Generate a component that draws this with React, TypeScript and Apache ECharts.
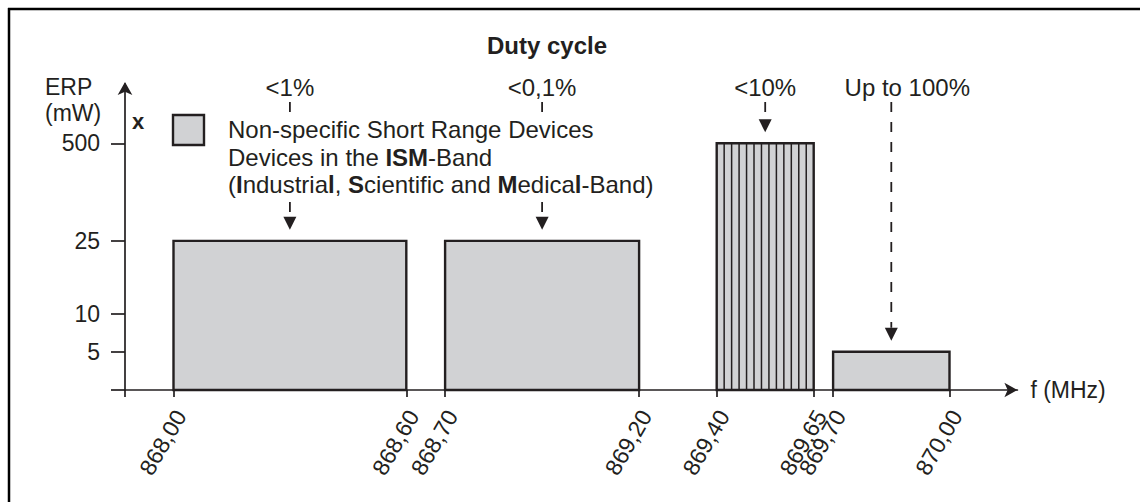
import React, { useEffect, useRef } from 'react';
import * as echarts from 'echarts';

// ---- data ----
const bandStartMHz = [868.0, 868.7, 869.4, 869.7];
const bandEndMHz = [868.6, 869.2, 869.65, 870.0];
const bandErpMw = [25, 25, 500, 5];
const bandDutyCycle = ['<1%', '<0,1%', '<10%', 'Up to 100%'];
const bandHatched = [false, false, true, false];
const freqTickLabels = [868.0, 868.6, 868.7, 869.2, 869.4, 869.65, 869.7, 870.0];
const erpTickLabels = [5, 10, 25, 500];
const freqAxisMin = 867.875;
const freqAxisMax = 870.175;

// broken (schematic) ERP scale: ERP value -> axis step
const erpScaleValues = [0, 5, 10, 25, 500];
const erpScaleSteps = [0, 1, 2, 3.9, 6.45];
const erpAxisMax = 8;

function erpToStep(v: number): number {
  for (let i = 1; i < erpScaleValues.length; i++) {
    if (v <= erpScaleValues[i]) {
      const a = erpScaleValues[i - 1], b = erpScaleValues[i];
      const t = (v - a) / (b - a);
      return erpScaleSteps[i - 1] + t * (erpScaleSteps[i] - erpScaleSteps[i - 1]);
    }
  }
  return erpScaleSteps[erpScaleSteps.length - 1];
}

const FONT = "'Liberation Sans', Arial, Helvetica, sans-serif";
const INK = '#231f20';
const FILL = '#d1d2d4';
const LABEL_DX = [0, 0, 0, 16];

export default function App() {
  const ref = useRef<HTMLDivElement>(null);
  useEffect(() => {
    if (!ref.current) return;
    const chart = echarts.init(ref.current, null, { renderer: 'svg' });
    const yLabelSteps = erpTickLabels.map(erpToStep);
    const option: any = {
      animation: false,
      backgroundColor: '#ffffff',
      title: {
        text: 'Duty cycle',
        left: 547,
        top: 33,
        textAlign: 'center',
        padding: 0,
        textStyle: { fontSize: 24, fontWeight: 'bold', color: INK, fontFamily: FONT },
      },
      grid: { left: 125, right: 122.6, top: 84, bottom: 112, outerBoundsMode: 'none', containLabel: false },
      xAxis: {
        type: 'value',
        min: freqAxisMin,
        max: freqAxisMax,
        name: 'f (MHz)',
        nameLocation: 'end',
        nameGap: 13,
        nameTextStyle: { fontSize: 23, color: INK, fontFamily: FONT, verticalAlign: 'middle' },
        splitLine: { show: false },
        axisLine: {
          show: true,
          onZero: false,
          symbol: ['none', 'arrow'],
          symbolSize: [11, 13],
          lineStyle: { color: INK, width: 1.7 },
        },
        axisTick: {
          show: true,
          inside: false,
          length: 7,
          customValues: [freqAxisMin, ...freqTickLabels],
          lineStyle: { color: INK, width: 1.7 },
        },
        axisLabel: {
          show: true,
          rotate: 60,
          margin: 18,
          verticalAlign: 'top',
          lineHeight: 16,
          customValues: freqTickLabels,
          fontSize: 23,
          color: INK,
          fontFamily: FONT,
          formatter: (v: number) => v.toFixed(2).replace('.', ','),
        },
      },
      yAxis: {
        type: 'value',
        min: 0,
        max: erpAxisMax,
        splitLine: { show: false },
        axisLine: {
          show: true,
          onZero: false,
          symbol: ['none', 'arrow'],
          symbolSize: [11, 13],
          symbolOffset: [0, 2],
          lineStyle: { color: INK, width: 1.7 },
        },
        axisTick: {
          show: true,
          inside: false,
          length: 14,
          customValues: [0, ...yLabelSteps],
          lineStyle: { color: INK, width: 1.7 },
        },
        axisLabel: {
          show: true,
          margin: 25,
          customValues: yLabelSteps,
          fontSize: 23,
          color: INK,
          fontFamily: FONT,
          formatter: (v: number) => {
            let best = 0;
            for (let i = 0; i < yLabelSteps.length; i++) {
              if (Math.abs(yLabelSteps[i] - v) < Math.abs(yLabelSteps[best] - v)) best = i;
            }
            return String(erpTickLabels[best]);
          },
        },
      },
      series: [
        {
          type: 'custom',
          clip: false,
          z: 2,
          encode: { x: [0, 1], y: 2 },
          data: bandStartMHz.map((s, i) => [s, bandEndMHz[i], erpToStep(bandErpMw[i])]),
          renderItem: (params: any, api: any) => {
            const i = params.dataIndex;
            const p0 = api.coord([api.value(0), 0]);
            const p1 = api.coord([api.value(1), api.value(2)]);
            const x = p0[0];
            const y = p1[1];
            const w = p1[0] - p0[0];
            const h = p0[1] - p1[1];
            const top = params.coordSys.y;
            const cx = x + w / 2;
            const children: any[] = [];
            children.push({
              type: 'rect',
              shape: { x, y, width: w, height: h },
              style: { fill: FILL, stroke: INK, lineWidth: 2.4 },
            });
            if (bandHatched[i]) {
              const n = 13;
              for (let k = 1; k < n; k++) {
                const lx = x + (w * k) / n;
                children.push({
                  type: 'line',
                  shape: { x1: lx, y1: y, x2: lx, y2: y + h },
                  style: { stroke: INK, lineWidth: 1.5 },
                });
              }
            }
            const tipY = y - 11;
            const baseY = tipY - 13;
            children.push({
              type: 'line',
              shape: { x1: cx, y1: top + 18, x2: cx, y2: baseY },
              style: { stroke: INK, lineWidth: 1.8, lineDash: [10, 10] },
            });
            children.push({
              type: 'polygon',
              shape: { points: [[cx - 6.5, baseY], [cx + 6.5, baseY], [cx, tipY]] },
              style: { fill: INK },
            });
            children.push({
              type: 'text',
              style: {
                text: bandDutyCycle[i],
                x: cx + LABEL_DX[i],
                y: top + 3,
                align: 'center',
                verticalAlign: 'middle',
                fill: INK,
                fontSize: 24,
                fontFamily: FONT,
              },
            });
            return { type: 'group', children };
          },
        },
      ],
      graphic: [
        { type: 'line', shape: { x1: 8, y1: 9, x2: 1140, y2: 9 }, style: { stroke: '#000', lineWidth: 2.5 } },
        { type: 'line', shape: { x1: 9, y1: 8, x2: 9, y2: 502 }, style: { stroke: '#000', lineWidth: 2.5 } },
        {
          type: 'text',
          x: 45,
          y: 74,
          style: {
            text: 'ERP\n(mW)',
            fill: INK,
            fontSize: 23,
            fontFamily: FONT,
            lineHeight: 26,
            align: 'left',
            verticalAlign: 'top',
          },
        },
        {
          type: 'text',
          x: 138,
          y: 121,
          style: {
            text: 'x',
            fill: INK,
            fontSize: 22,
            fontWeight: 'bold',
            fontFamily: FONT,
            align: 'center',
            verticalAlign: 'middle',
          },
        },
        {
          type: 'rect',
          z: 10,
          shape: { x: 173, y: 115, width: 31, height: 30 },
          style: { fill: FILL, stroke: INK, lineWidth: 2.4 },
        },
        {
          type: 'text',
          z: 10,
          x: 226,
          y: 116,
          style: {
            text:
              'Non-specific Short Range Devices\n' +
              'Devices in the {b|ISM}-Band\n' +
              '({b|I}ndustria{b|l}, {b|S}cientific and {b|M}edica{b|l}-Band)',
            fill: INK,
            fontSize: 24,
            fontFamily: FONT,
            lineHeight: 27.5,
            align: 'left',
            verticalAlign: 'top',
            backgroundColor: '#ffffff',
            padding: [0, 2],
            rich: {
              b: { fontWeight: 'bold', fontSize: 24, fontFamily: FONT, fill: INK, lineHeight: 27.5 },
            },
          },
        },
      ],
    };
    chart.setOption(option);
    return () => chart.dispose();
  }, []);
  return (
    <div
      ref={ref}
      style={{ position: 'fixed', left: 0, top: 0, width: 1140, height: 502, background: '#fff' }}
    />
  );
}
